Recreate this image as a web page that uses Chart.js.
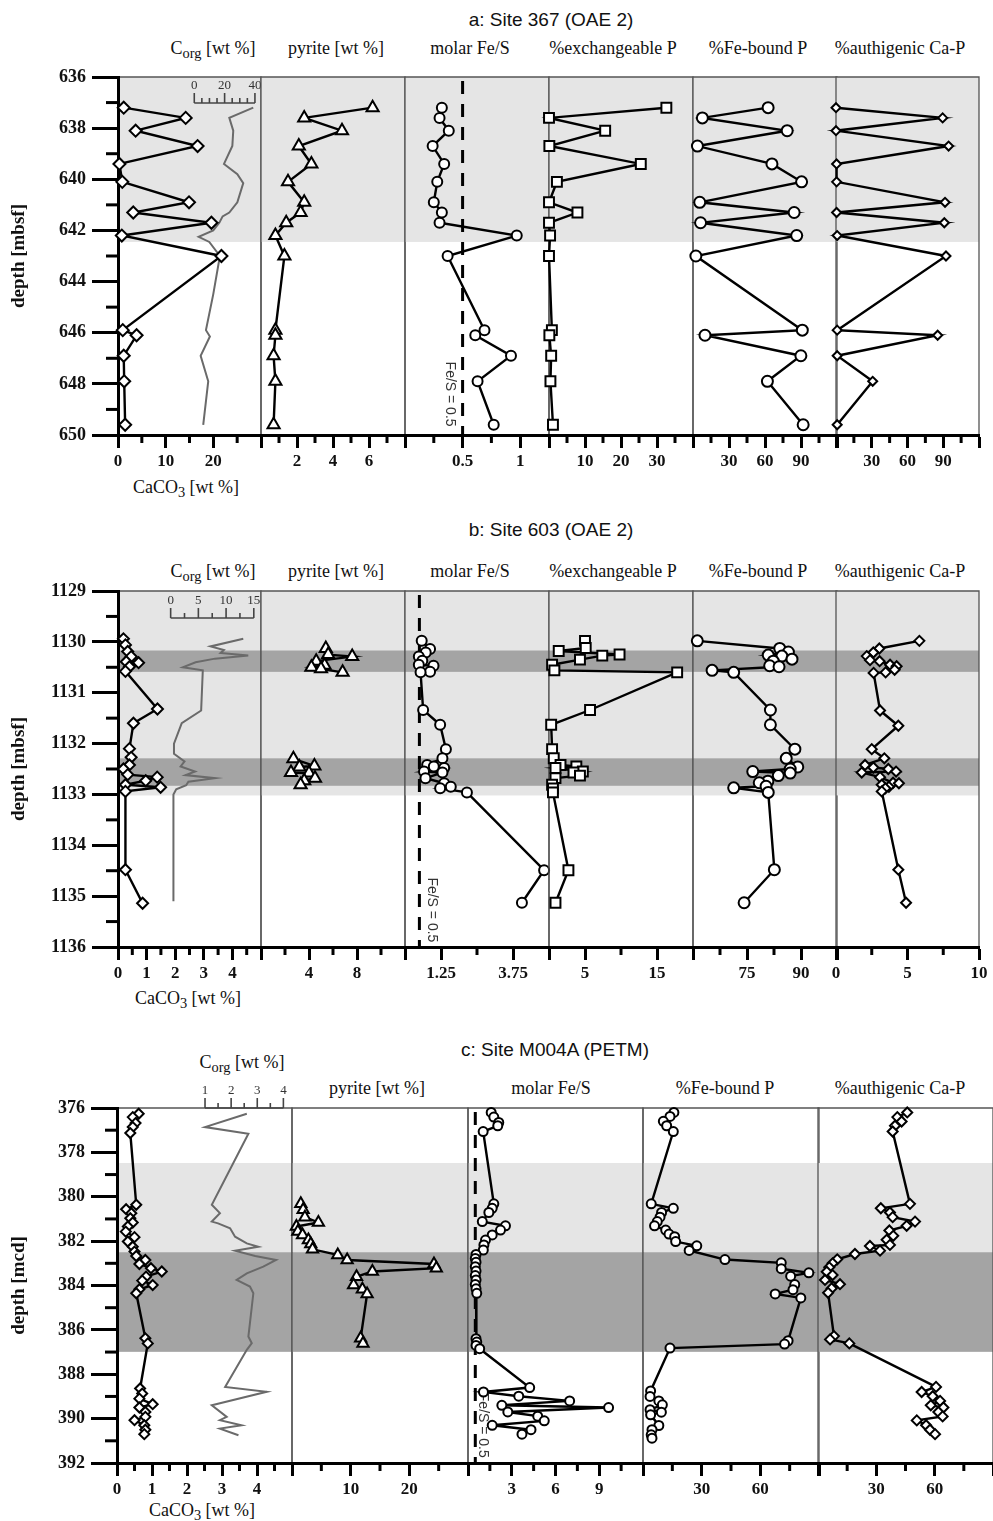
<!DOCTYPE html>
<html>
<head>
<meta charset="utf-8">
<script src="https://cdn.jsdelivr.net/npm/chart.js@4.4.1/dist/chart.umd.min.js"></script>
<style>
  body { margin: 0; background: #fff; width: 993px; height: 1521px; position: relative; overflow: hidden; }
  canvas { position: absolute; }
  .t { position: absolute; white-space: nowrap; transform: translate(-50%, -50%); font-family: "Liberation Serif", serif; font-size: 18px; color: #111; }
  .t sub { font-size: 0.8em; vertical-align: -0.3em; line-height: 0; }
  .ttl { font-family: "Liberation Sans", Arial, sans-serif; font-size: 19px; }
</style>
</head>
<body>
<script>
const SERIF = '"Liberation Serif", "Times New Roman", serif';
const SANS = '"Liberation Sans", Arial, sans-serif';

// ---------- a: Site 367 (OAE 2) ----------
const depthA = [637.2, 637.6, 638.1, 638.7, 639.4, 640.1, 640.9, 641.3, 641.7, 642.2, 643.0, 645.9, 646.1, 646.9, 647.9, 649.6];
const caco3A = [1.2, 14.2, 3.7, 16.7, 0.3, 0.9, 14.9, 3.2, 19.6, 0.8, 21.7, 1.0, 3.9, 1.2, 1.3, 1.5];
const pyriteA = [6.2, 2.4, 4.5, 2.1, 2.8, 1.5, 2.4, 2.2, 1.4, 0.8, 1.3, 0.8, 0.8, 0.7, 0.8, 0.7];
const fesA = [0.32, 0.30, 0.38, 0.24, 0.34, 0.28, 0.25, 0.32, 0.30, 0.97, 0.37, 0.69, 0.61, 0.92, 0.63, 0.77];
const exchPA = [32.6, 0, 15.6, 0.1, 25.5, 2.2, 0, 7.9, 0, 0.3, 0, 0.8, 0.1, 0.6, 0.4, 1.1];
const feBoundA = [62.6, 7.8, 78.5, 3.7, 65.8, 90.5, 5.6, 84.3, 6.3, 86.4, 2.4, 91.1, 10, 89.9, 62, 91.8];
const authA = [0, 89.5, 0, 94.5, 0.5, 0.5, 91.5, 0.5, 90.9, 1, 92.3, 1, 85.3, 1, 30.8, 1];
const corgDepthA = [637.2, 637.6, 638.1, 638.7, 639.4, 639.8, 640.15, 640.9, 641.3, 641.45, 641.7, 642.0, 642.25, 642.45, 643.0, 644.5, 645.9, 646.15, 646.9, 647.9, 649.6];
const corgA = [38.9, 23.1, 25.7, 25.1, 19.6, 28.4, 32.3, 28.4, 23.1, 18.7, 16.5, 12.5, 2.9, 9.9, 16.9, 12.5, 7.7, 10.3, 4.2, 9.2, 5.9];

// ---------- b: Site 603 (OAE 2) ----------
const caco3DepthB = [1129.94, 1130.06, 1130.19, 1130.29, 1130.39, 1130.41, 1130.49, 1130.58, 1131.32, 1131.6, 1132.1, 1132.27, 1132.42, 1132.5, 1132.61, 1132.66, 1132.73, 1132.81, 1132.86, 1132.94, 1134.48, 1135.14];
const caco3B = [0.19, 0.26, 0.34, 0.46, 0.29, 0.72, 0.40, 0.26, 1.38, 0.54, 0.40, 0.46, 0.40, 0.19, 0.34, 1.37, 0.97, 0.26, 1.49, 0.26, 0.26, 0.86];
const corgDepthB = [1129.94, 1130.09, 1130.16, 1130.22, 1130.27, 1130.33, 1130.40, 1130.50, 1130.56, 1131.35, 1131.6, 1132.0, 1132.2, 1132.35, 1132.45, 1132.55, 1132.62, 1132.68, 1132.75, 1132.82, 1132.9, 1133.0, 1135.1];
const corgB = [13.1, 7.2, 9.6, 9.0, 14.0, 8.0, 4.5, 2.2, 5.8, 5.5, 2.0, 0.6, 0.6, 2.5, 1.8, 4.4, 2.7, 8.0, 3.2, 2.8, 1.0, 0.5, 0.5];
const pyriteDepthB = [1130.13, 1130.25, 1130.29, 1130.38, 1130.46, 1130.5, 1130.53, 1130.6, null, 1132.3, 1132.44, 1132.46, 1132.57, 1132.58, 1132.68, 1132.73, 1132.81];
const pyriteB = [5.4, 5.6, 7.6, 4.6, 5.3, 4.2, 5.0, 6.8, null, 2.7, 4.45, 3.2, 2.5, 4.0, 4.5, 3.6, 3.3];
const fesDepthB = [1129.98, 1130.14, 1130.21, 1130.29, 1130.37, 1130.45, 1130.47, 1130.59, 1130.6, 1131.34, 1131.63, 1132.11, 1132.29, 1132.42, 1132.45, 1132.48, 1132.55, 1132.57, 1132.68, 1132.78, 1132.85, 1132.88, 1132.96, 1134.49, 1135.13];
const fesB = [0.58, 0.87, 0.72, 0.48, 0.6, 0.48, 0.99, 0.87, 0.54, 0.63, 1.22, 1.42, 1.30, 0.77, 1.0, 1.36, 0.66, 1.3, 0.71, 1.36, 1.59, 1.22, 2.15, 4.83, 4.06];
const exchDepthB = [1129.98, 1130.12, 1130.18, 1130.25, 1130.27, 1130.35, 1130.45, 1130.56, 1130.6, 1131.34, 1131.63, 1132.11, 1132.29, 1132.42, 1132.45, 1132.48, 1132.55, 1132.57, 1132.63, 1132.68, 1132.81, 1132.88, 1132.96, 1134.49, 1135.13];
const exchPB = [5.0, 5.1, 1.35, 9.8, 7.4, 4.3, 0.43, 0.75, 17.8, 5.7, 0.3, 0.43, 0.66, 1.6, 3.8, 0.9, 4.7, 3.4, 4.3, 0.9, 0.43, 0.55, 0.55, 2.7, 0.9];
const feBoundDepthB = [1129.98, 1130.13, 1130.2, 1130.26, 1130.28, 1130.34, 1130.38, 1130.47, 1130.49, 1130.56, 1130.6, 1131.34, 1131.63, 1132.11, 1132.29, 1132.46, 1132.5, 1132.55, 1132.58, 1132.63, 1132.74, 1132.77, 1132.84, 1132.87, 1132.96, 1134.48, 1135.13];
const feBoundB = [61.2, 84.1, 86.5, 80.9, 84.7, 87.5, 82.3, 81.3, 83.9, 65.3, 71.3, 81.5, 81.5, 88.3, 85.9, 89.1, 87.0, 76.6, 87.0, 83.7, 80.8, 78.4, 80.3, 71.3, 80.9, 82.6, 74.2];
const authDepthB = [1129.98, 1130.13, 1130.21, 1130.28, 1130.36, 1130.38, 1130.45, 1130.48, 1130.55, 1130.6, 1130.61, 1131.35, 1131.65, 1132.11, 1132.29, 1132.42, 1132.47, 1132.5, 1132.55, 1132.57, 1132.66, 1132.77, 1132.78, 1132.81, 1132.85, 1132.88, 1132.94, 1134.48, 1135.13];
const authB = [5.83, 3.03, 2.61, 2.15, 2.38, 3.05, 3.78, 4.24, 4.1, 3.47, 2.63, 3.08, 4.36, 2.5, 3.38, 2.03, 2.61, 3.66, 4.2, 1.8, 3.08, 3.99, 4.4, 3.2, 3.7, 3.45, 3.2, 4.36, 4.9];

// ---------- c: Site M004A (PETM) ----------
const caco3DepthC = [376.26, 376.41, 376.68, 376.86, 377.13, 380.36, 380.56, 380.74, 380.97, 381.16, 381.34, 381.57, 381.82, 382.02, 382.25, 382.47, 382.67, 382.85, 383.03, 383.22, 383.37, 383.6, 383.78, 383.98, 384.17, 384.35, 386.38, 386.61, 388.64, 388.87, 389.1, 389.35, 389.5, 389.7, 389.92, 390.07, 390.3, 390.5, 390.7];
const caco3C = [0.62, 0.45, 0.53, 0.45, 0.38, 0.55, 0.26, 0.41, 0.38, 0.45, 0.31, 0.25, 0.5, 0.31, 0.45, 0.5, 0.55, 0.81, 0.64, 0.97, 1.28, 0.83, 0.72, 1.02, 0.64, 0.55, 0.81, 0.88, 0.66, 0.72, 0.64, 1.02, 0.64, 0.81, 0.81, 0.5, 0.78, 0.81, 0.78];
const corgDepthC = [376.26, 376.86, 377.16, 380.36, 380.74, 381.12, 381.2, 381.42, 381.8, 382.1, 382.25, 382.43, 382.67, 382.85, 383.15, 383.45, 383.75, 384.05, 384.35, 386.3, 386.6, 386.9, 388.57, 388.79, 389.4, 389.92, 390.07, 390.3, 390.45, 390.75];
const corgC = [2.6, 1.0, 2.66, 1.26, 1.57, 1.26, 1.5, 1.96, 2.15, 2.6, 3.04, 2.15, 2.92, 3.72, 3.23, 2.6, 2.21, 2.72, 2.85, 2.66, 2.79, 2.6, 1.77, 3.36, 1.26, 1.83, 1.57, 2.4, 1.57, 2.28];
const pyriteDepthC = [380.32, 380.59, 380.92, 381.16, 381.34, 381.57, 381.72, 381.95, 382.13, 382.37, 382.62, 382.85, 383.03, 383.22, 383.37, 383.6, 383.98, 384.17, 384.38, 386.38, 386.61];
const pyriteC = [1.5, 1.9, 2.2, 4.5, 0.75, 1.0, 1.8, 2.8, 3.2, 3.5, 7.8, 9.4, 24.2, 24.6, 13.7, 11.0, 10.5, 12.0, 12.8, 11.7, 12.1];
const fesDepthC = [376.2, 376.41, 376.65, 376.8, 377.06, 380.32, 380.52, 380.71, 381.12, 381.31, 381.5, 381.72, 381.95, 382.17, 382.4, 382.6, 382.78, 382.95, 383.15, 383.35, 383.55, 383.75, 383.95, 384.15, 384.35, 386.4, 386.55, 386.7, 386.85, 388.6, 388.8, 388.99, 389.2, 389.4, 389.5, 389.7, 389.89, 390.1, 390.3, 390.5, 390.7];
const fesC = [1.59, 1.77, 2.11, 2.04, 1.04, 1.77, 1.66, 1.43, 0.98, 2.57, 2.23, 1.66, 1.2, 1.09, 1.05, 0.55, 0.5, 0.55, 0.5, 0.55, 0.5, 0.55, 0.5, 0.55, 0.6, 0.55, 0.6, 0.55, 0.8, 4.23, 1.06, 3.48, 6.97, 2.32, 9.64, 2.73, 4.78, 5.23, 1.66, 4.32, 3.7];
const feBoundDepthC = [376.2, 376.38, 376.6, 376.8, 377.06, 380.32, 380.52, 380.71, 380.92, 381.12, 381.31, 381.5, 381.68, 381.8, 382.02, 382.21, 382.42, 382.83, 382.98, 383.24, 383.43, 383.58, 383.96, 384.19, 384.38, 384.56, 386.49, 386.64, 386.82, 388.75, 389.0, 389.2, 389.38, 389.6, 389.71, 389.83, 390.31, 390.5, 390.73, 390.88];
const feBoundC = [15.8, 13.8, 10.4, 12.1, 15.5, 4.2, 15.5, 9.5, 8.7, 7.3, 5.9, 11.6, 13.3, 16.2, 16.7, 27.5, 23.6, 41.9, 70.7, 70.7, 84.8, 75.5, 77.6, 76.7, 67.6, 80.7, 74.2, 72.4, 13.8, 3.9, 3.6, 8.1, 9.9, 3.6, 9.4, 3.9, 8.1, 4.6, 4.2, 4.6];
const authDepthC = [376.2, 376.41, 376.61, 376.8, 377.06, 380.32, 380.52, 380.71, 380.92, 381.12, 381.31, 381.52, 381.76, 381.94, 382.17, 382.22, 382.43, 382.58, 382.82, 383.0, 383.18, 383.38, 383.53, 383.75, 383.94, 384.13, 384.33, 386.28, 386.43, 386.61, 388.57, 388.8, 388.99, 389.2, 389.4, 389.5, 389.7, 389.9, 390.08, 390.3, 390.5, 390.7];
const authC = [45.9, 40.8, 43.0, 39.6, 38.4, 47.3, 32.3, 37.0, 38.4, 49.9, 45.6, 36.7, 38.7, 35.3, 37.0, 26.7, 31.9, 19.0, 9.9, 7.5, 5.8, 4.5, 7.5, 3.6, 11.3, 7.0, 5.2, 8.2, 6.2, 16.1, 60.7, 53.3, 59.0, 62.8, 58.0, 64.5, 61.9, 64.1, 50.8, 55.6, 57.6, 60.2];

// tick labels shown under each column
const labCaco3A = [0, 10, 20], labPyriteA = [2, 4, 6], labFesA = [0.5, 1], labExchA = [10, 20, 30], labFeBA = [30, 60, 90], labAuthA = [30, 60, 90];
const labCaco3B = [0, 1, 2, 3, 4], labPyriteB = [4, 8], labFesB = [1.25, 3.75], labExchB = [5, 15], labFeBB = [75, 90], labAuthB = [0, 5, 10];
const labCaco3C = [0, 1, 2, 3, 4], labPyriteC = [10, 20], labFesC = [3, 6, 9], labFeBC = [30, 60], labAuthC = [30, 60];
const labCorgA = [0, 20, 40], labCorgB = [0, 5, 10, 15], labCorgC = [1, 2, 3, 4];

// ---------- layout ----------
const COLS_AB = [118, 261, 404.5, 548.5, 692.5, 836, 979];
const COLS_C = [117, 292, 467.5, 642.5, 818, 993];
const PAD_X = 22, PAD_TOP = 40, AXIS_H = 46;
const LIGHT = '#e5e5e5', DARK = '#a4a4a4';

const PA = { top: 77, bottom: 435, yMin: 636, yMax: 650, minor: 1, major: 2, title: 'depth [mbsf]',
  bands: [{ from: 636, to: 642.45, color: LIGHT }] };
const PB = { top: 591, bottom: 947, yMin: 1129, yMax: 1136, minor: 0.5, major: 1, title: 'depth [mbsf]',
  bands: [{ from: 1129, to: 1133.02, color: LIGHT }, { from: 1130.17, to: 1130.59, color: DARK }, { from: 1132.29, to: 1132.83, color: DARK }] };
const PC = { top: 1108, bottom: 1463, yMin: 376, yMax: 392, minor: 1, major: 2, title: 'depth [mcd]',
  bands: [{ from: 378.48, to: 382.5, color: LIGHT }, { from: 382.5, to: 386.99, color: DARK }] };

const near = (a, b) => Math.abs(a - b) < 1e-6;
const has = (arr, v) => arr.some(a => near(a, v));
const pts = (depths, vals) => depths.map((d, i) => ({ x: vals[i], y: d }));

function series(depths, vals, style, r) {
  return {
    data: pts(depths, vals), showLine: true, spanGaps: false, clip: false, order: 0,
    borderColor: '#000', borderWidth: 2.4,
    pointStyle: style, pointRadius: r, pointBackgroundColor: '#fff',
    pointBorderColor: '#000', pointBorderWidth: 2
  };
}
function corgLine(depths, vals) {
  return {
    data: pts(depths, vals), showLine: true, clip: false, order: 1, xAxisID: 'x2',
    borderColor: '#6a6a6a', borderWidth: 2, pointRadius: 0
  };
}

const extra = new Map();

const decor = {
  id: 'decor',
  beforeDraw(chart) {
    const o = extra.get(chart.canvas); if (!o) return;
    const { ctx, chartArea: a } = chart; const y = chart.scales.y;
    ctx.save();
    o.panel.bands.forEach(b => {
      const t = Math.max(a.top, y.getPixelForValue(b.from));
      const bt = Math.min(a.bottom, y.getPixelForValue(b.to));
      ctx.fillStyle = b.color; ctx.fillRect(a.left, t, a.right - a.left, bt - t);
    });
    ctx.strokeStyle = '#555'; ctx.lineWidth = 1.3;
    ctx.beginPath();
    ctx.moveTo(a.left, a.bottom); ctx.lineTo(a.left, a.top);
    ctx.lineTo(a.right, a.top); ctx.lineTo(a.right, a.bottom);
    ctx.stroke();
    ctx.restore();
  },
  beforeDatasetsDraw(chart) {
    const o = extra.get(chart.canvas); if (!o || !o.fes) return;
    const { ctx, chartArea: a } = chart;
    const px = chart.scales.x.getPixelForValue(o.fes.value);
    ctx.save();
    ctx.strokeStyle = '#000'; ctx.lineWidth = 3; ctx.setLineDash([13, 10]);
    ctx.beginPath(); ctx.moveTo(px, a.top + 4); ctx.lineTo(px, a.bottom); ctx.stroke();
    ctx.setLineDash([]);
    ctx.translate(px + o.fes.dx, chart.scales.y.getPixelForValue(o.fes.depth));
    ctx.rotate(Math.PI / 2);
    ctx.fillStyle = '#333'; ctx.font = '14px ' + SANS;
    ctx.textAlign = 'center'; ctx.textBaseline = 'middle';
    ctx.fillText('Fe/S = 0.5', 0, 0);
    ctx.restore();
  },
  afterDraw(chart) {
    const o = extra.get(chart.canvas); if (!o) return;
    const { ctx, chartArea: a } = chart;
    const x = chart.scales.x, y = chart.scales.y;
    ctx.save();
    ctx.strokeStyle = '#000'; ctx.lineWidth = 3;
    // short ticks on the depth axis
    if (o.first) {
      y.ticks.forEach(t => {
        if (has(o.majorY, t.value)) return;
        const py = y.getPixelForValue(t.value);
        ctx.beginPath(); ctx.moveTo(a.left - 12, py); ctx.lineTo(a.left, py); ctx.stroke();
      });
    }
    // short ticks on the value axis
    x.ticks.forEach(t => {
      if (o.isLong(t.value)) return;
      const px = x.getPixelForValue(t.value);
      ctx.beginPath(); ctx.moveTo(px, a.bottom); ctx.lineTo(px, a.bottom + 8); ctx.stroke();
    });
    // small Corg scale
    if (o.inset) {
      const s = chart.scales.x2, base = a.top + o.inset.dy;
      ctx.strokeStyle = '#444'; ctx.lineWidth = 1.6;
      ctx.beginPath();
      ctx.moveTo(s.getPixelForValue(o.inset.min), base);
      ctx.lineTo(s.getPixelForValue(o.inset.max), base);
      ctx.stroke();
      ctx.fillStyle = '#333'; ctx.font = '13px ' + SERIF;
      ctx.textAlign = 'center'; ctx.textBaseline = 'bottom';
      for (let v = o.inset.min; v <= o.inset.max + 1e-6; v += o.inset.step) {
        const px = s.getPixelForValue(v);
        const lab = has(o.inset.labels, v);
        ctx.beginPath(); ctx.moveTo(px, base); ctx.lineTo(px, base - (lab ? 10 : 5)); ctx.stroke();
        if (lab) ctx.fillText(String(v), px, base - 11);
      }
    }
    ctx.restore();
  }
};
Chart.register(decor);

function column(panel, left, right, first, c) {
  const cLeft = first ? 0 : left - PAD_X;
  const w = Math.round(right + PAD_X - cLeft);
  const h = (panel.bottom - panel.top) + PAD_TOP + AXIS_H;
  const cv = document.createElement('canvas');
  cv.width = w; cv.height = h;
  cv.style.left = cLeft + 'px'; cv.style.top = (panel.top - PAD_TOP) + 'px';
  document.body.appendChild(cv);

  const majorY = [];
  for (let v = panel.yMin; v <= panel.yMax + 1e-6; v += panel.major) majorY.push(v);
  const isLong = v => has(c.labels, v) || near(v, c.min) || near(v, c.max);
  extra.set(cv, { panel, first, majorY, isLong, fes: c.fes, inset: c.inset });

  const scales = {
    x: {
      type: 'linear', position: 'bottom', min: c.min, max: c.max,
      afterFit: s => { s.height = AXIS_H; },
      border: { display: true, width: 3, color: '#000' },
      grid: {
        drawOnChartArea: false, tickLength: 13, tickWidth: 3,
        tickColor: ctx => (ctx.tick && isLong(ctx.tick.value)) ? '#000' : 'rgba(0,0,0,0)'
      },
      ticks: {
        stepSize: c.step, autoSkip: false, maxRotation: 0, padding: 3, color: '#111',
        font: { family: SERIF, size: 17, weight: 'bold' },
        callback: v => has(c.labels, v) ? String(Math.round(v * 100) / 100) : ''
      }
    },
    y: {
      type: 'linear', reverse: true, min: panel.yMin, max: panel.yMax, display: first,
      afterFit: s => { if (first) s.width = left; },
      border: { display: true, width: 3, color: '#000' },
      grid: {
        drawOnChartArea: false, tickLength: 26, tickWidth: 3,
        tickColor: ctx => (ctx.tick && has(majorY, ctx.tick.value)) ? '#000' : 'rgba(0,0,0,0)'
      },
      ticks: {
        stepSize: panel.minor, autoSkip: false, padding: 6, color: '#111',
        font: { family: SERIF, size: 18, weight: 'bold' },
        callback: v => has(majorY, v) ? String(v) : ''
      },
      title: {
        display: true, text: panel.title, color: '#111',
        font: { family: SERIF, size: 19, weight: 'bold' }, padding: { top: 8, bottom: 0 }
      }
    }
  };
  if (c.inset) scales.x2 = { type: 'linear', display: false, min: c.inset.axMin, max: c.inset.axMax };

  new Chart(cv, {
    type: 'scatter',
    data: { datasets: c.datasets },
    options: {
      responsive: false, animation: false, devicePixelRatio: 1, events: [],
      layout: { padding: { left: first ? 0 : PAD_X, right: PAD_X, top: PAD_TOP, bottom: 0 } },
      plugins: { legend: { display: false }, tooltip: { enabled: false } },
      scales
    }
  });
}

function text(html, x, y, cls) {
  const d = document.createElement('div');
  d.className = 't' + (cls ? ' ' + cls : '');
  d.innerHTML = html;
  d.style.left = x + 'px'; d.style.top = y + 'px';
  document.body.appendChild(d);
}

// ---------- panel a ----------
text('a: Site 367 (OAE 2)', 551, 20, 'ttl');
[['C<sub>org</sub> [wt %]', 213], ['pyrite [wt %]', 336], ['molar Fe/S', 470], ['%exchangeable P', 613],
 ['%Fe-bound P', 758], ['%authigenic Ca-P', 900]].forEach(([s, x]) => text(s, x, 48));
text('CaCO<sub>3</sub> [wt %]', 186, 487);
const A = COLS_AB;
column(PA, A[0], A[1], true, { min: 0, max: 30, step: 5, labels: labCaco3A,
  inset: { axMin: -50.3, axMax: 44, min: 0, max: 40, step: 5, labels: labCorgA, dy: 26 },
  datasets: [series(depthA, caco3A, 'rectRot', 6), corgLine(corgDepthA, corgA)] });
column(PA, A[1], A[2], false, { min: 0, max: 8, step: 1, labels: labPyriteA,
  datasets: [series(depthA, pyriteA, 'triangle', 7)] });
column(PA, A[2], A[3], false, { min: 0, max: 1.25, step: 0.25, labels: labFesA,
  fes: { value: 0.5, dx: -13, depth: 648.4 },
  datasets: [series(depthA, fesA, 'circle', 5)] });
column(PA, A[3], A[4], false, { min: 0, max: 40, step: 5, labels: labExchA,
  datasets: [series(depthA, exchPA, 'rect', 7)] });
column(PA, A[4], A[5], false, { min: 0, max: 120, step: 15, labels: labFeBA,
  datasets: [series(depthA, feBoundA, 'circle', 5.5)] });
column(PA, A[5], A[6], false, { min: 0, max: 120, step: 15, labels: labAuthA,
  datasets: [series(depthA, authA, 'rectRot', 4.5)] });

// ---------- panel b ----------
text('b: Site 603 (OAE 2)', 551, 530, 'ttl');
[['C<sub>org</sub> [wt %]', 213], ['pyrite [wt %]', 336], ['molar Fe/S', 470], ['%exchangeable P', 613],
 ['%Fe-bound P', 758], ['%authigenic Ca-P', 900]].forEach(([s, x]) => text(s, x, 571));
text('CaCO<sub>3</sub> [wt %]', 188, 998);
column(PB, A[0], A[1], true, { min: 0, max: 5, step: 0.5, labels: labCaco3B,
  inset: { axMin: -9.5, axMax: 16.3, min: 0, max: 15, step: 2.5, labels: labCorgB, dy: 27 },
  datasets: [series(caco3DepthB, caco3B, 'rectRot', 5.5), corgLine(corgDepthB, corgB)] });
column(PB, A[1], A[2], false, { min: 0, max: 12, step: 2, labels: labPyriteB,
  datasets: [series(pyriteDepthB, pyriteB, 'triangle', 7)] });
column(PB, A[2], A[3], false, { min: 0, max: 5, step: 1.25, labels: labFesB,
  fes: { value: 0.5, dx: 12, depth: 1135.27 },
  datasets: [series(fesDepthB, fesB, 'circle', 5)] });
column(PB, A[3], A[4], false, { min: 0, max: 20, step: 5, labels: labExchB,
  datasets: [series(exchDepthB, exchPB, 'rect', 7)] });
column(PB, A[4], A[5], false, { min: 60, max: 100, step: 7.5, labels: labFeBB,
  datasets: [series(feBoundDepthB, feBoundB, 'circle', 5.5)] });
column(PB, A[5], A[6], false, { min: 0, max: 10, step: 2.5, labels: labAuthB,
  datasets: [series(authDepthB, authB, 'rectRot', 5)] });

// ---------- panel c ----------
const C = COLS_C;
text('c: Site M004A (PETM)', 555, 1050, 'ttl');
text('C<sub>org</sub> [wt %]', 242, 1062);
[['pyrite [wt %]', 377], ['molar Fe/S', 551], ['%Fe-bound P', 725], ['%authigenic Ca-P', 900]]
  .forEach(([s, x]) => text(s, x, 1088));
text('CaCO<sub>3</sub> [wt %]', 202, 1510);
column(PC, C[0], C[1], true, { min: 0, max: 5, step: 0.5, labels: labCaco3C,
  inset: { axMin: -2.37, axMax: 4.33, min: 1, max: 4, step: 0.5, labels: labCorgC, dy: 0 },
  datasets: [series(caco3DepthC, caco3C, 'rectRot', 5), corgLine(corgDepthC, corgC)] });
column(PC, C[1], C[2], false, { min: 0, max: 30, step: 5, labels: labPyriteC,
  datasets: [series(pyriteDepthC, pyriteC, 'triangle', 6.5)] });
column(PC, C[2], C[3], false, { min: 0, max: 12, step: 1.5, labels: labFesC,
  fes: { value: 0.5, dx: 8, depth: 390.3 },
  datasets: [series(fesDepthC, fesC, 'circle', 4.5)] });
column(PC, C[3], C[4], false, { min: 0, max: 90, step: 15, labels: labFeBC,
  datasets: [series(feBoundDepthC, feBoundC, 'circle', 4.5)] });
column(PC, C[4], C[5], false, { min: 0, max: 90, step: 15, labels: labAuthC,
  datasets: [series(authDepthC, authC, 'rectRot', 5)] });
</script>
</body>
</html>
